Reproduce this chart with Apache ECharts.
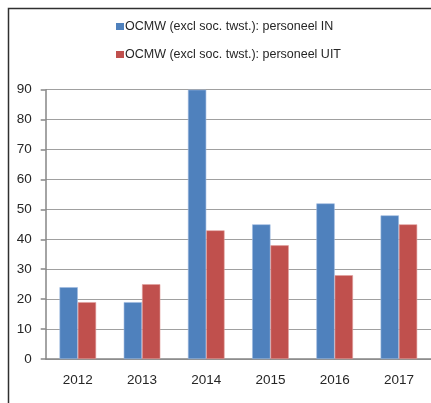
<!DOCTYPE html>
<html><head><meta charset="utf-8">
<script src="https://cdn.jsdelivr.net/npm/echarts@6/dist/echarts.min.js"></script>
<style>html,body{margin:0;padding:0;background:#fff}#c{width:431px;height:403px}</style>
</head><body><div id="c"></div>
<script>
const categories = ['2012','2013','2014','2015','2016','2017'];
const seriesNames = ['OCMW (excl soc. twst.): personeel IN','OCMW (excl soc. twst.): personeel UIT'];
const personeelIn = [24, 19, 90, 45, 52, 48];
const personeelUit = [19, 25, 43, 38, 28, 45];
const yTicks = [0,10,20,30,40,50,60,70,80,90];

const chart = echarts.init(document.getElementById('c'), null, {renderer:'canvas'});
const font = 'Liberation Sans, Arial, sans-serif';
chart.setOption({
  animation:false,
  backgroundColor:'#fff',
  graphic:[{type:'rect',shape:{x:8.5,y:8.5,width:600,height:600},style:{fill:'none',stroke:'#303030',lineWidth:1.5},z:100}],
  legend:{
    orient:'vertical', left:111, top:14, itemWidth:8, itemHeight:7, itemGap:13,
    icon:'rect',
    itemStyle:{borderWidth:0},
    textStyle:{fontFamily:font,fontSize:12.5,color:'#262626',lineHeight:15,padding:[0,0,0,-4]},
    data:seriesNames
  },
  grid:{left:45.7, right:0, top:89.7, bottom:44},
  xAxis:{
    type:'category', data:categories,
    axisLine:{lineStyle:{color:'#868686',width:1.5}},
    axisTick:{length:4,lineStyle:{color:'#868686',width:1.5}},
    axisLabel:{fontFamily:font,fontSize:13.5,color:'#262626',margin:14}
  },
  yAxis:{
    type:'value', min:yTicks[0], max:yTicks[yTicks.length-1], interval:10,
    axisLine:{show:true,lineStyle:{color:'#868686',width:1.5}},
    axisTick:{show:true,length:5,lineStyle:{color:'#868686',width:1.5}},
    splitLine:{lineStyle:{color:'#a0a0a0',width:1.2}},
    axisLabel:{fontFamily:font,fontSize:13.5,color:'#262626',margin:14}
  },
  series:[
    {name:seriesNames[0],type:'bar',data:personeelIn,barGap:'0%',barCategoryGap:'43%',
     itemStyle:{color:'#4F81BD',borderColor:'#9fbbe0',borderWidth:0.6}},
    {name:seriesNames[1],type:'bar',data:personeelUit,barGap:'0%',barCategoryGap:'43%',
     itemStyle:{color:'#C0504D',borderColor:'#e0a09e',borderWidth:0.6}}
  ]
});
</script></body></html>
